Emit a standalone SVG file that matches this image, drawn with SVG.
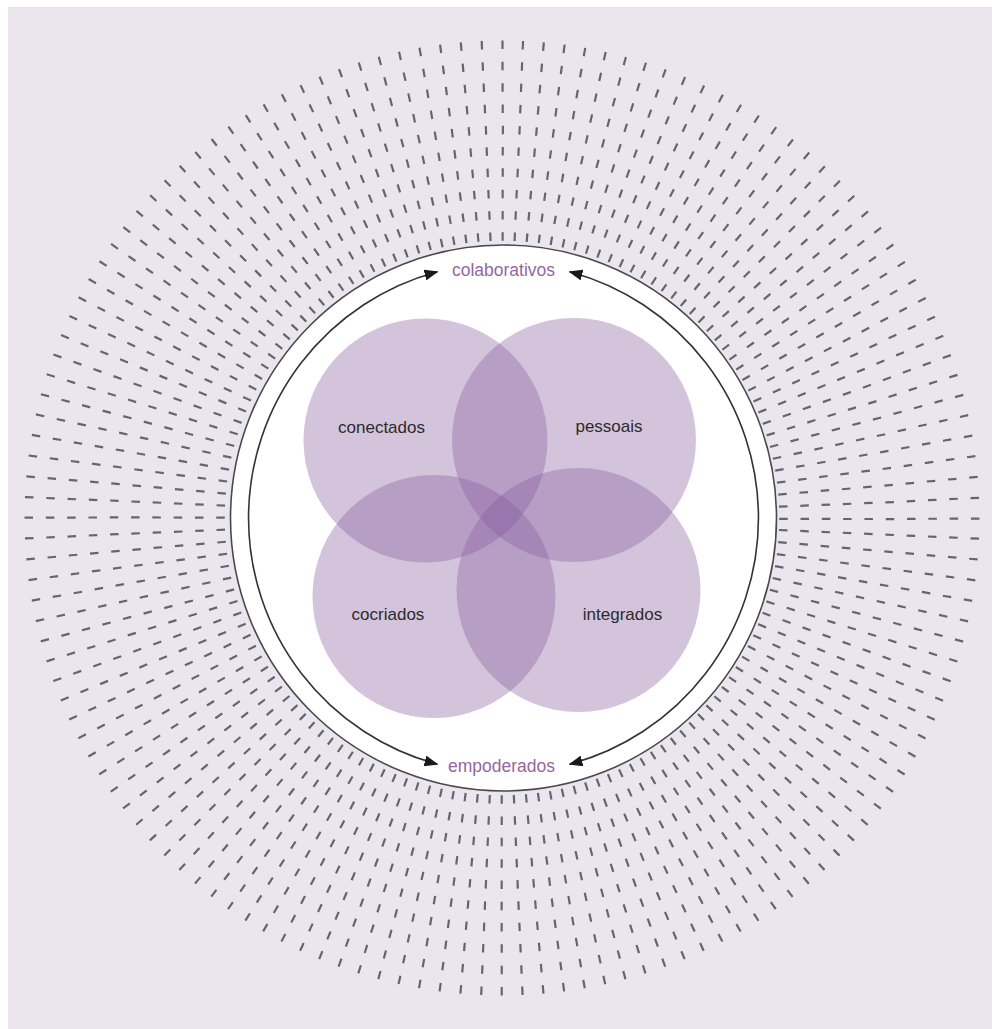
<svg xmlns="http://www.w3.org/2000/svg" width="992" height="1029" viewBox="0 0 992 1029">
  <defs>
    <style>
      .bg { fill: #ebe5f0; }
      .ring { fill: none; stroke: #666666; stroke-width: 8.5; }
      .frame { fill: #ffffff; stroke: #4a4a4a; stroke-width: 1.6; }
      .arc { fill: none; stroke: #333333; stroke-width: 1.6; marker-start: url(#head); marker-end: url(#head); }
      .petal { fill: #855b9e; fill-opacity: 0.36; }
      .label { font-family: "Liberation Sans", Arial, sans-serif; font-size: 17px; fill: #2b2b2b; text-anchor: middle; }
      .value { font-family: "Liberation Sans", Arial, sans-serif; font-size: 17.5px; fill: #95679f; text-anchor: middle; }
    </style>
    <marker id="head" viewBox="0 0 14 11" refX="13" refY="5.5" markerWidth="14" markerHeight="11" markerUnits="userSpaceOnUse" orient="auto-start-reverse">
      <path d="M0,0 L14,5.5 L0,11 Z" fill="#1a1a1a"/>
    </marker>
  </defs>

  <rect class="bg" x="8" y="7" width="984" height="1022"/>

  <!-- 144 radial dashed rays (2.5 deg pitch), drawn as ten dashed rings;
       the rings start half a pitch round so each path seam falls in a gap -->
  <g id="rays" transform="rotate(1.25 502 518)">
    <circle class="ring" cx="502" cy="518" r="281.5" stroke-dasharray="2.2 10.083" stroke-dashoffset="-5.0415"/>
    <circle class="ring" cx="502" cy="518" r="302.8" stroke-dasharray="2.2 11.012" stroke-dashoffset="-5.506"/>
    <circle class="ring" cx="502" cy="518" r="324.1" stroke-dasharray="2.2 11.941" stroke-dashoffset="-5.9705"/>
    <circle class="ring" cx="502" cy="518" r="345.4" stroke-dasharray="2.2 12.871" stroke-dashoffset="-6.4355"/>
    <circle class="ring" cx="502" cy="518" r="366.7" stroke-dasharray="2.2 13.800" stroke-dashoffset="-6.9"/>
    <circle class="ring" cx="502" cy="518" r="388.0" stroke-dasharray="2.2 14.730" stroke-dashoffset="-7.365"/>
    <circle class="ring" cx="502" cy="518" r="409.3" stroke-dasharray="2.2 15.659" stroke-dashoffset="-7.8295"/>
    <circle class="ring" cx="502" cy="518" r="430.6" stroke-dasharray="2.2 16.588" stroke-dashoffset="-8.294"/>
    <circle class="ring" cx="502" cy="518" r="451.9" stroke-dasharray="2.2 17.518" stroke-dashoffset="-8.759"/>
    <circle class="ring" cx="502" cy="518" r="473.2" stroke-dasharray="2.2 18.447" stroke-dashoffset="-9.2235"/>
  </g>

  <g id="frame">
    <circle class="frame" cx="503.5" cy="518" r="273"/>
  </g>

  <!-- two double-headed arcs pointing at the top and bottom labels -->
  <g id="connectors">
    <path class="arc" d="M437.5,271.7 A255,255 0 0 0 437.5,764.3"/>
    <path class="arc" d="M569.5,271.7 A255,255 0 0 1 569.5,764.3"/>
  </g>

  <g id="colaborativos">
    <text class="value" x="503.5" y="276">colaborativos</text>
  </g>
  <g id="empoderados">
    <text class="value" x="501.5" y="771.5">empoderados</text>
  </g>

  <g id="conectados">
    <circle class="petal" cx="425.5" cy="440.5" r="122"/>
    <text class="label" x="381.5" y="433">conectados</text>
  </g>
  <g id="pessoais">
    <circle class="petal" cx="574" cy="440" r="122"/>
    <text class="label" x="609" y="432">pessoais</text>
  </g>
  <g id="cocriados">
    <circle class="petal" cx="434" cy="596.5" r="121.5"/>
    <text class="label" x="388" y="620">cocriados</text>
  </g>
  <g id="integrados">
    <circle class="petal" cx="578.5" cy="590" r="122"/>
    <text class="label" x="622.5" y="620">integrados</text>
  </g>
</svg>
